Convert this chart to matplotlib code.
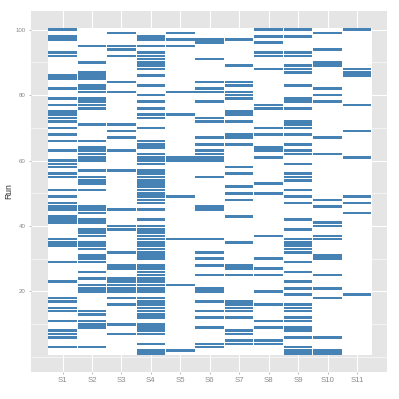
import numpy as np
import matplotlib
matplotlib.use("Agg")
import matplotlib.pyplot as plt

plt.rcParams['font.family'] = ['Liberation Sans', 'DejaVu Sans']

# === Data: runs in which each sample is present ===
samples = ["S1", "S2", "S3", "S4", "S5", "S6", "S7", "S8", "S9", "S10", "S11"]
n_runs = 100

s1 = [100, 98, 97, 93, 92, 86, 85, 82, 79, 77, 75, 74, 73, 72, 70, 68, 66, 63,
      60, 59, 58, 56, 55, 51, 49, 47, 46, 45, 43, 42, 41, 36, 35, 34, 29, 23,
      18, 17, 15, 14, 11, 8, 7, 6, 3]
s2 = [95, 90, 87, 86, 85, 83, 82, 81, 79, 78, 77, 76, 71, 66, 64, 63, 62, 61,
      60, 57, 55, 54, 53, 51, 46, 45, 44, 42, 41, 39, 38, 37, 35, 34, 33, 31,
      30, 29, 26, 24, 22, 21, 20, 14, 13, 11, 10, 9, 3]
s3 = [99, 95, 94, 92, 84, 81, 71, 69, 67, 63, 57, 45, 40, 39, 32, 28, 27, 24,
      23, 22, 21, 20, 18, 16, 10, 7]
s4 = [98, 97, 95, 93, 92, 91, 90, 89, 88, 86, 83, 80, 78, 76, 74, 73, 70, 66,
      65, 64, 62, 61, 60, 59, 57, 56, 55, 54, 53, 52, 51, 50, 49, 48, 47, 45,
      42, 40, 39, 38, 37, 36, 35, 34, 33, 32, 31, 30, 28, 27, 26, 25, 24, 23,
      22, 21, 20, 18, 17, 16, 15, 14, 13, 12, 10, 9, 8, 7, 4, 2, 1]
s5 = [99, 97, 95, 81, 74, 61, 60, 49, 36, 22, 2]
s6 = [97, 96, 91, 84, 82, 81, 78, 73, 72, 67, 65, 63, 62, 61, 60, 55, 46, 45,
      36, 32, 30, 28, 25, 21, 20, 17, 14, 12, 9, 4, 3]
s7 = [97, 89, 84, 83, 81, 80, 79, 75, 74, 72, 68, 67, 65, 58, 56, 52, 50, 48,
      43, 35, 28, 27, 25, 17, 16, 15, 14, 12, 8, 7, 5, 4]
s8 = [100, 98, 96, 93, 92, 88, 77, 76, 70, 68, 64, 63, 61, 53, 50, 37, 30, 27,
      25, 20, 16, 11, 9, 5, 4]
s9 = [100, 98, 93, 92, 89, 88, 87, 83, 79, 78, 76, 72, 71, 70, 68, 65, 63, 62,
      59, 56, 55, 54, 51, 49, 47, 42, 39, 36, 35, 34, 33, 32, 29, 26, 23, 21,
      19, 16, 15, 14, 12, 11, 9, 8, 6, 3, 2, 1]
s10 = [99, 94, 90, 89, 82, 80, 78, 67, 62, 48, 46, 41, 40, 37, 36, 31, 30, 25,
       21, 18, 6, 2, 1]
s11 = [100, 88, 87, 86, 77, 69, 61, 49, 47, 44, 19]

present = [s1, s2, s3, s4, s5, s6, s7, s8, s9, s10, s11]

# === Plot ===
fig = plt.figure(figsize=(3.99, 3.99), dpi=100)
ax = fig.add_axes([0.0777, 0.0677, 0.8923, 0.9047])
ax.set_facecolor("#E5E5E5")
ax.set_axisbelow(True)

# white tiles for every sample x run cell
x_edges = np.arange(0.5, len(samples) + 1)
y_edges = np.arange(0.5, n_runs + 1)
ax.pcolormesh(x_edges, y_edges, np.zeros((n_runs, len(samples))),
              cmap="Greys", vmin=0, vmax=1, edgecolors="none")

# blue tiles where the sample is present
for j, hits in enumerate(present):
    hits = np.array(hits)
    ax.bar(np.full(len(hits), j + 1), 0.82, bottom=hits - 0.41, width=0.97,
           color="steelblue", linewidth=0)

ax.set_xlim(-0.07, 12.02)
ax.set_ylim(-4.6, 105.7)

ax.set_xticks(range(1, len(samples) + 1))
ax.set_xticklabels(samples)
ax.set_yticks([20, 40, 60, 80, 100])
ax.set_yticks([0, 10, 30, 50, 70, 90], minor=True)

ax.grid(True, which="major", color="white", lw=0.8)
ax.grid(True, which="minor", axis="y", color="white", lw=0.4)

for s in ax.spines.values():
    s.set_visible(False)

ax.tick_params(axis="x", which="major", labelsize=5.6, labelcolor="#8a8a8a",
               color="#888888", length=1.2, width=0.4, pad=2.5)
ax.tick_params(axis="y", which="major", labelsize=4.4, labelcolor="#8a8a8a",
               color="#888888", length=1.2, width=0.4, pad=2.5)
ax.tick_params(axis="both", which="minor", length=0)

ax.set_ylabel("Run", fontsize=6.2, color="#333333", labelpad=2)

plt.savefig("out.png", dpi=100)
plt.close()
